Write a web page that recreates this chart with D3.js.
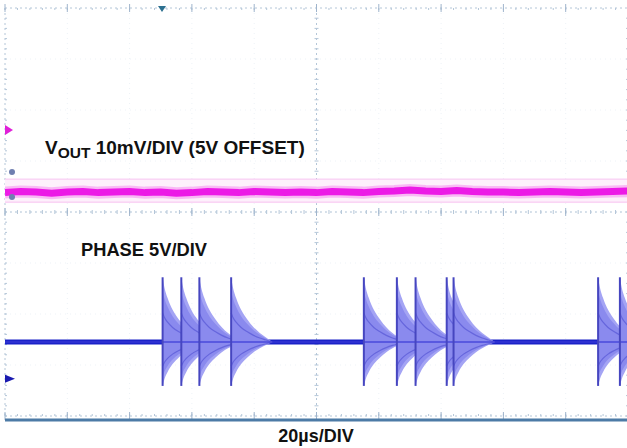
<!DOCTYPE html>
<html><head><meta charset="utf-8">
<script src="https://cdn.jsdelivr.net/npm/d3@7"></script>
<style>html,body{margin:0;padding:0;background:#fff;}svg{display:block;}</style>
</head><body>
<script>
// ---- data (scope divisions: time 0..10 div, voltage -4..4 div) ----
const xDivs = [0,1,2,3,4,5,6,7,8,9,10];
const yDivs = [-4,-3,-2,-1,0,1,2,3,4];
// VOUT trace (magenta), sampled every 0.25 div
const voutT = [0,0.25,0.5,0.75,1,1.25,1.5,1.75,2,2.25,2.5,2.75,3,3.25,3.5,3.75,4,4.25,4.5,4.75,5,5.25,5.5,5.75,6,6.25,6.5,6.75,7,7.25,7.5,7.75,8,8.25,8.5,8.75,9,9.25,9.5,9.75,10];
const voutV = [0.38,0.40,0.39,0.37,0.39,0.40,0.38,0.39,0.40,0.38,0.39,0.37,0.38,0.40,0.39,0.38,0.40,0.39,0.38,0.39,0.38,0.40,0.39,0.38,0.40,0.41,0.43,0.41,0.40,0.42,0.40,0.39,0.39,0.38,0.39,0.40,0.39,0.38,0.39,0.40,0.41];
// PHASE trace (blue)
const phaseBase = -2.55;
const burstStarts = [2.53, 2.83, 3.12, 3.63, 5.76, 6.29, 6.59, 7.09, 7.20, 9.52, 9.87];
const ringUp = 1.27;   // div above baseline at spike
const ringDown = 0.86; // div below baseline at spike
const decayT = [0, 0.03, 0.08, 0.16, 0.26, 0.36, 0.46, 0.56, 0.66];
const decayA = [1, 0.84, 0.68, 0.50, 0.35, 0.23, 0.14, 0.07, 0.0];
const labels = {vout:["V","OUT"," 10mV/DIV (5V OFFSET)"], phase:"PHASE 5V/DIV", time:"20µs/DIV"};

const W=627,H=448;
const svg=d3.select("body").append("svg").attr("width",W).attr("height",H);
svg.append("rect").attr("width",W).attr("height",H).attr("fill","#fff");
const x=d3.scaleLinear().domain([0,10]).range([5,628]);
const y=d3.scaleLinear().domain([-4,4]).range([416,8]);

svg.append("defs").append("clipPath").attr("id","pc").append("rect")
  .attr("x",x(0)).attr("y",y(4)).attr("width",x(10)-x(0)).attr("height",y(-4)-y(4)+4);

const g=svg.append("g");
// faint grid
g.selectAll(".gx").data(xDivs.slice(1,-1)).join("line")
  .attr("x1",d=>x(d)).attr("x2",d=>x(d)).attr("y1",y(4)).attr("y2",y(-4))
  .attr("stroke","#edf2f7").attr("stroke-dasharray","1,4");
g.selectAll(".gy").data(yDivs.slice(1,-1)).join("line")
  .attr("y1",d=>y(d)).attr("y2",d=>y(d)).attr("x1",x(0)).attr("x2",x(10))
  .attr("stroke","#edf2f7").attr("stroke-dasharray","1,4");
// center lines & borders with minor ticks
const gridCol="#b4c6d8";
function hline(v){g.append("line").attr("x1",x(0)).attr("x2",x(10)).attr("y1",y(v)).attr("y2",y(v))
  .attr("stroke",gridCol).attr("stroke-dasharray","2,3");}
function vline(v){g.append("line").attr("y1",y(4)).attr("y2",y(-4)).attr("x1",x(v)).attr("x2",x(v))
  .attr("stroke",gridCol).attr("stroke-dasharray","2,3");}
hline(0);hline(4);vline(5);vline(0);vline(10);hline(-4);
const minorX=d3.range(0,50).map(i=>i*0.2), minorY=d3.range(0,40).map(i=>-4+i*0.2);
[0,4,-4].forEach(v=>{
  g.selectAll(null).data(minorX).join("line")
   .attr("x1",d=>x(d)).attr("x2",d=>x(d)).attr("y1",y(v)-(v===4?0:2)).attr("y2",y(v)+(v===-4?0:2))
   .attr("stroke",gridCol).attr("stroke-width",1);
});
[0,5,10].forEach(v=>{
  g.selectAll(null).data(minorY).join("line")
   .attr("y1",d=>y(d)).attr("y2",d=>y(d)).attr("x1",x(v)-(v===0?0:2)).attr("x2",x(v)+(v===10?0:2))
   .attr("stroke",gridCol).attr("stroke-width",1);
});
// major ticks
[0,4,-4].forEach(v=>{
  g.selectAll(null).data(xDivs).join("line")
   .attr("x1",d=>x(d)).attr("x2",d=>x(d)).attr("y1",y(v)-4).attr("y2",y(v)+4)
   .attr("stroke","#9fb4cc");
});

const tr=svg.append("g").attr("clip-path","url(#pc)");
// VOUT band
const vline2=d3.line().x((d,i)=>x(voutT[i])).y(d=>y(d)).curve(d3.curveLinear);
tr.append("rect").attr("x",x(0)).attr("width",x(10)-x(0))
  .attr("y",y(0.39)-13).attr("height",24).attr("fill","#fdf0fb");
[ -13, 10 ].forEach(o=>tr.append("line").attr("x1",x(0)).attr("x2",x(10))
  .attr("y1",y(0.39)+o).attr("y2",y(0.39)+o).attr("stroke","#f8c4f1").attr("stroke-width",1));
tr.append("path").attr("d",vline2(voutV)).attr("fill","none").attr("stroke","#f58cf0").attr("stroke-width",12).attr("opacity",0.55);
tr.append("path").attr("d",vline2(voutV)).attr("fill","none").attr("stroke","#ec1ae6").attr("stroke-width",7);

// PHASE baseline
tr.append("line").attr("x1",x(0)).attr("x2",x(10)).attr("y1",y(phaseBase)).attr("y2",y(phaseBase))
  .attr("stroke","#1a22c8").attr("stroke-width",5);

// bursts
const bursts=burstStarts.map((s,i)=>{
  const end=i<burstStarts.length-1?Math.min(s+decayT[decayT.length-1],burstStarts[i+1]):s+decayT[decayT.length-1];
  const pts=[];
  decayT.forEach((t,j)=>{ if(s+t<=end) pts.push([s+t,decayA[j]]); });
  if(pts[pts.length-1][0]<end){
    const k=decayT.findIndex(t=>s+t>end);
    const t0=decayT[k-1],t1=decayT[k],a0=decayA[k-1],a1=decayA[k];
    pts.push([end,a0+(a1-a0)*((end-s)-t0)/(t1-t0)]);
  }
  return {s,pts};
});
const area=(f)=>d3.area().x(d=>x(d[0])).y0(d=>y(phaseBase-ringDown*d[1]*f)).y1(d=>y(phaseBase+ringUp*d[1]*f)).curve(d3.curveMonotoneX);
tr.selectAll(".bo").data(bursts).join("path").attr("d",b=>area(1)(b.pts)).attr("fill","#a4a4f4");
tr.selectAll(".bi").data(bursts).join("path").attr("d",b=>area(0.8)(b.pts)).attr("fill","#8a8aee");
const lineUp=(f)=>d3.line().x(d=>x(d[0])).y(d=>y(phaseBase+ringUp*d[1]*f)).curve(d3.curveMonotoneX);
const lineDn=(f)=>d3.line().x(d=>x(d[0])).y(d=>y(phaseBase-ringDown*d[1]*f)).curve(d3.curveMonotoneX);
tr.selectAll(".lu").data(bursts).join("path").attr("d",b=>lineUp(0.45)(b.pts)).attr("fill","none").attr("stroke","#5c5cd8").attr("stroke-width",1.2).attr("opacity",0.8);
tr.selectAll(".ld").data(bursts).join("path").attr("d",b=>lineDn(0.55)(b.pts)).attr("fill","none").attr("stroke","#5c5cd8").attr("stroke-width",1.2).attr("opacity",0.8);
tr.append("line").attr("x1",x(0)).attr("x2",x(10)).attr("y1",y(phaseBase)).attr("y2",y(phaseBase))
  .attr("stroke","#3a3ad8").attr("stroke-width",2).attr("opacity",0.6);
tr.selectAll(".sp").data(burstStarts).join("line")
  .attr("x1",d=>x(d)).attr("x2",d=>x(d)).attr("y1",y(phaseBase+ringUp)).attr("y2",y(phaseBase-ringDown))
  .attr("stroke","#4646c0").attr("stroke-width",2);

// bottom border
svg.append("line").attr("x1",x(0)).attr("x2",W).attr("y1",420).attr("y2",420).attr("stroke","#4d7ba6").attr("stroke-width",3);

// markers
svg.append("path").attr("d",`M${x(0)},${y(1.61)-5}L${x(0)+8},${y(1.61)}L${x(0)},${y(1.61)+5}Z`).attr("fill","#e020d8");
svg.append("circle").attr("cx",12).attr("cy",172).attr("r",3).attr("fill","#6f7fb0");
svg.append("circle").attr("cx",12).attr("cy",197).attr("r",3).attr("fill","#6f7fb0");
svg.append("path").attr("d",`M${x(0)},${y(-3.27)-4}L${x(0)+10},${y(-3.27)}L${x(0)},${y(-3.27)+4}Z`).attr("fill","#1a1ab0");
svg.append("path").attr("d",`M${x(2.52)-4},${y(4)-2}L${x(2.52)+4},${y(4)-2}L${x(2.52)},${y(4)+4}Z`).attr("fill","#2c7090");

// text
const ff="'Liberation Sans', Arial, sans-serif";
const t1=svg.append("text").attr("x",45).attr("y",154).attr("font-family",ff).attr("font-weight","bold").attr("font-size",19).attr("fill","#111");
t1.append("tspan").text(labels.vout[0]);
t1.append("tspan").attr("font-size",15.5).attr("dy",4).text(labels.vout[1]);
t1.append("tspan").attr("dy",-4).text(labels.vout[2]);
svg.append("text").attr("x",81).attr("y",256).attr("font-family",ff).attr("font-weight","bold").attr("font-size",18.3).attr("fill","#111").text(labels.phase);
svg.append("text").attr("x",316).attr("y",442).attr("text-anchor","middle").attr("font-family",ff).attr("font-weight","bold").attr("font-size",18).attr("fill","#111").text(labels.time);
</script>
</body></html>
